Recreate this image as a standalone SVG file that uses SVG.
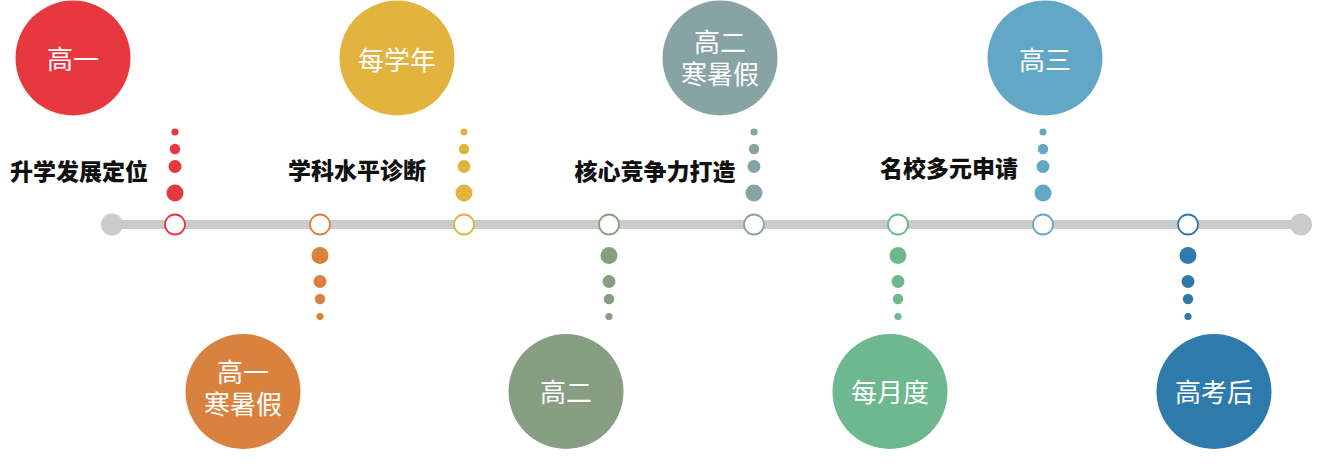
<svg xmlns="http://www.w3.org/2000/svg" width="1332" height="472" viewBox="0 0 1332 472">
<style>
.bg{fill:#ffffff}
.ct{font-family:"Noto Sans CJK SC","Noto Sans",sans-serif;font-size:26px;fill:#ffffff;text-anchor:middle;dominant-baseline:central}
.ct2{font-family:"Liberation Sans","Noto Sans CJK SC",sans-serif;font-size:26px;fill:#ffffff;text-anchor:middle;dominant-baseline:central}
.lb{font-family:"Noto Sans CJK SC","Noto Sans",sans-serif;font-size:23px;font-weight:900;fill:#111111;text-anchor:middle;dominant-baseline:central}
.mk{fill:#ffffff;stroke-width:1.8}
.red{fill:#E8383F}.redS{stroke:#E8383F}
.org{fill:#D9823F}.orgS{stroke:#D9823F}
.yel{fill:#E3B33F}.yelS{stroke:#E3B33F}
.gg{fill:#889E82}.ggS{stroke:#889E82}
.tg{fill:#87A3A3}.tgS{stroke:#87A3A3}
.grn{fill:#6DB88E}.grnS{stroke:#6DB88E}
.lbl{fill:#63A7C7}.lblS{stroke:#63A7C7}
.dbl{fill:#2F7AAD}.dblS{stroke:#2F7AAD}
</style>
<defs>
<g id="dotsUp">
<circle cx="0" cy="-31" r="8.5"/>
<circle cx="0" cy="-57.5" r="6.5"/>
<circle cx="0" cy="-75" r="5.2"/>
<circle cx="0" cy="-92" r="3.6"/>
</g>
<g id="dotsDown">
<circle cx="0" cy="31.5" r="8.5"/>
<circle cx="0" cy="57.5" r="6.5"/>
<circle cx="0" cy="75" r="5.2"/>
<circle cx="0" cy="92.5" r="3.6"/>
</g>
</defs>
<rect class="bg" x="0" y="0" width="1332" height="472"/>
<g id="connectors">
<line x1="112" y1="224.5" x2="1301" y2="224.5" stroke="#CBCBCB" stroke-width="9"/>
<circle cx="112" cy="224.5" r="11" fill="#CBCBCB"/>
<circle cx="1301" cy="224.5" r="11" fill="#CBCBCB"/>
</g>
<g id="node-gaoyi">
<circle class="red" cx="73" cy="58" r="57.5"/>
<text class="ct" x="73" y="57">高一</text>
<use href="#dotsUp" x="175" y="224" class="red"/>
<circle class="mk redS" cx="175" cy="224.5" r="10"/>
<text class="lb" x="79" y="170">升学发展定位</text>
</g>
<g id="node-gaoyi-holiday">
<circle class="org" cx="243" cy="391.5" r="57.5"/>
<text class="ct2" x="243" y="373">高一</text>
<text class="ct2" x="243" y="405">寒暑假</text>
<use href="#dotsDown" x="320" y="224" class="org"/>
<circle class="mk orgS" cx="320" cy="224.5" r="10"/>
</g>
<g id="node-every-year">
<circle class="yel" cx="397" cy="58" r="57.5"/>
<text class="ct" x="397" y="58">每学年</text>
<use href="#dotsUp" x="464" y="224" class="yel"/>
<circle class="mk yelS" cx="464" cy="224.5" r="10"/>
<text class="lb" x="357" y="169">学科水平诊断</text>
</g>
<g id="node-gaoer">
<circle class="gg" cx="566" cy="391.5" r="57.5"/>
<text class="ct" x="566" y="390">高二</text>
<use href="#dotsDown" x="609" y="224" class="gg"/>
<circle class="mk ggS" cx="609" cy="224.5" r="10"/>
<text class="lb" x="655" y="170">核心竞争力打造</text>
</g>
<g id="node-gaoer-holiday">
<circle class="tg" cx="720" cy="58" r="57.5"/>
<text class="ct2" x="720" y="43">高二</text>
<text class="ct2" x="720" y="75">寒暑假</text>
<use href="#dotsUp" x="754" y="224" class="tg"/>
<circle class="mk tgS" cx="754" cy="224.5" r="10"/>
</g>
<g id="node-monthly">
<circle class="grn" cx="890" cy="391.5" r="57.5"/>
<text class="ct" x="890" y="390">每月度</text>
<use href="#dotsDown" x="898" y="224" class="grn"/>
<circle class="mk grnS" cx="898" cy="224.5" r="10"/>
<text class="lb" x="949" y="167">名校多元申请</text>
</g>
<g id="node-gaosan">
<circle class="lbl" cx="1045" cy="58" r="57.5"/>
<text class="ct" x="1045" y="58">高三</text>
<use href="#dotsUp" x="1043" y="224" class="lbl"/>
<circle class="mk lblS" cx="1043" cy="224.5" r="10"/>
</g>
<g id="node-after-exam">
<circle class="dbl" cx="1214" cy="391.5" r="57.5"/>
<text class="ct" x="1214" y="390">高考后</text>
<use href="#dotsDown" x="1188" y="224" class="dbl"/>
<circle class="mk dblS" cx="1188" cy="224.5" r="10"/>
</g>
</svg>
